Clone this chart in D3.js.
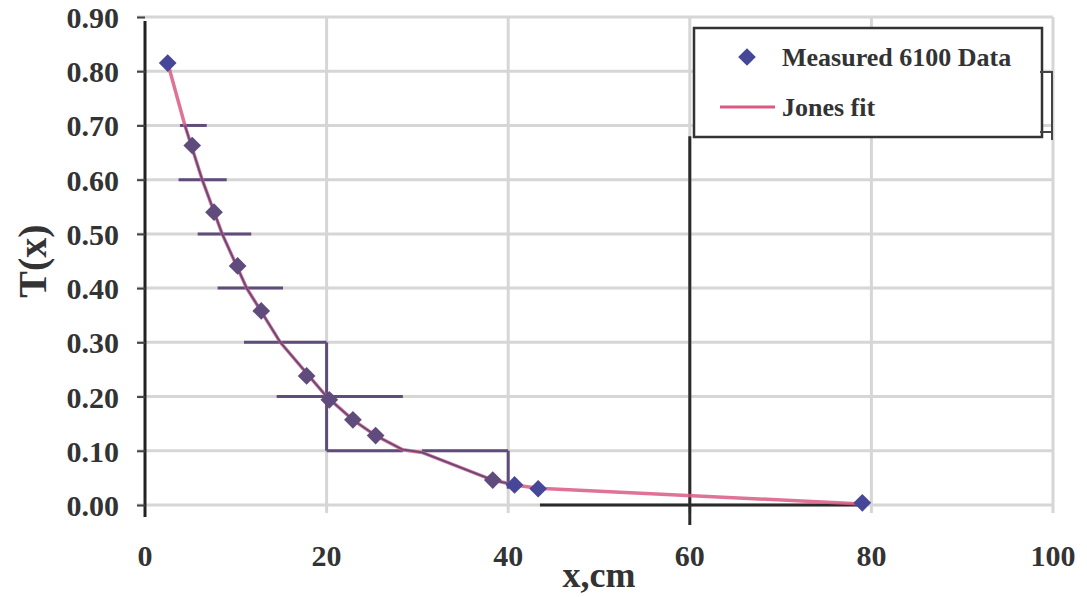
<!DOCTYPE html>
<html>
<head>
<meta charset="utf-8">
<script src="https://cdn.jsdelivr.net/npm/d3@7"></script>
<style>
  body { margin: 0; background: #fff; }
  text { font-family: "Liberation Serif", "Times New Roman", serif; font-weight: bold; fill: #333; }
</style>
</head>
<body>
<div id="chart"></div>
<script>
const width = 1087;
const height = 597;

// measured data
const measX = [2.5, 5.2, 7.6, 10.2, 12.8, 17.8, 20.3, 22.9, 25.4, 38.3, 40.7, 43.3, 79];
const measY = [0.815, 0.663, 0.54, 0.441, 0.358, 0.238, 0.194, 0.157, 0.128, 0.046, 0.037, 0.030, 0.004];

// Jones fit
const fitX = [2.5, 4.4, 6.3, 8.5, 11.2, 14.9, 20, 22.9, 25.4, 28.4, 30.5, 38.3, 40.7, 43.3, 79];
const fitY = [0.815, 0.70, 0.60, 0.50, 0.40, 0.30, 0.20, 0.157, 0.128, 0.102, 0.097, 0.046, 0.037, 0.031, 0.002];

// horizontal bars seen over the curve
const barY = [0.70, 0.60, 0.50, 0.40, 0.30, 0.20, 0.10, 0.10];
const barX0 = [3.85, 3.7, 5.8, 8.0, 10.9, 14.5, 20, 30.5];
const barX1 = [6.8, 9.0, 11.7, 15.2, 20, 28.4, 28.4, 40];
// vertical steps
const stepX = [20, 40];
const stepY0 = [0.30, 0.10];
const stepY1 = [0.10, 0.03];

const xTicks = [0, 20, 40, 60, 80, 100];
const yTicks = [0, 0.1, 0.2, 0.3, 0.4, 0.5, 0.6, 0.7, 0.8, 0.9];

const margin = {top: 17, right: 34, bottom: 92, left: 145};

const svg = d3.select("#chart").append("svg")
  .attr("width", width)
  .attr("height", height);

const x = d3.scaleLinear().domain([0, 100]).range([margin.left, width - margin.right]);
const y = d3.scaleLinear().domain([0, 0.9]).range([height - margin.bottom, margin.top]);

// grid
svg.append("g").selectAll("line").data(yTicks).join("line")
  .attr("x1", x(0) - 8).attr("x2", x(100))
  .attr("y1", d => y(d)).attr("y2", d => y(d))
  .attr("stroke", "#d6d6d6").attr("stroke-width", 3);
svg.append("g").selectAll("line").data(xTicks.slice(1)).join("line")
  .attr("x1", d => x(d)).attr("x2", d => x(d))
  .attr("y1", y(0.9)).attr("y2", y(0) + 8)
  .attr("stroke", "#d6d6d6").attr("stroke-width", 3);

// dark lines from the scan
svg.append("line")
  .attr("x1", x(60)).attr("x2", x(60))
  .attr("y1", y(0.68)).attr("y2", y(0) + 20)
  .attr("stroke", "#2a2a2a").attr("stroke-width", 3);
svg.append("line")
  .attr("x1", x(43.5)).attr("x2", x(79.5))
  .attr("y1", y(0)).attr("y2", y(0))
  .attr("stroke", "#2a2a2a").attr("stroke-width", 3);

// left axis
const yAxis = d3.axisLeft(y).tickValues(yTicks).tickSize(8).tickFormat(d3.format(".2f"));
const ya = svg.append("g").attr("transform", `translate(${x(0)},0)`).call(yAxis);
ya.select(".domain").attr("stroke", "#222").attr("stroke-width", 3)
  .attr("d", `M0,${y(0.9) + 4}V${y(0) + 12}`);
ya.selectAll(".tick line").attr("stroke", "#444").attr("stroke-width", 2);
ya.selectAll(".tick text").attr("x", -26).attr("dy", "0.35em").attr("font-size", 30)
  .style("font-family", "Liberation Serif, serif").style("font-weight", "bold").attr("fill", "#333");

// x tick labels
svg.append("g").selectAll("text").data(xTicks).join("text")
  .attr("x", d => x(d)).attr("y", y(0) + 61)
  .attr("text-anchor", "middle")
  .attr("font-size", 30)
  .text(d => d);

// axis titles
svg.append("text")
  .attr("transform", `translate(46,${(y(0) + y(0.9)) / 2}) rotate(-90)`)
  .attr("text-anchor", "middle")
  .attr("font-size", 40)
  .text("T(x)");
svg.append("text")
  .attr("x", x(50)).attr("y", height - 10)
  .attr("text-anchor", "middle")
  .attr("font-size", 36)
  .text("x,cm");

const purple = "#5f4c7c";
const blue = "#47479a";
const pink = "#d95b82";

// bars and steps
svg.append("g").selectAll("line").data(barY).join("line")
  .attr("x1", (d, i) => x(barX0[i])).attr("x2", (d, i) => x(barX1[i]))
  .attr("y1", d => y(d)).attr("y2", d => y(d))
  .attr("stroke", purple).attr("stroke-width", 3);
svg.append("g").selectAll("line").data(stepX).join("line")
  .attr("x1", d => x(d)).attr("x2", d => x(d))
  .attr("y1", (d, i) => y(stepY0[i])).attr("y2", (d, i) => y(stepY1[i]))
  .attr("stroke", purple).attr("stroke-width", 3);

// fit line
const fitPts = fitX.map((d, i) => [d, fitY[i]]);
const line = d3.line().x(d => x(d[0])).y(d => y(d[1]));
svg.append("path").datum(fitPts)
  .attr("d", line).attr("fill", "none")
  .attr("stroke", pink).attr("stroke-width", 3.5).attr("stroke-opacity", 0.85);
// overlaid purple pieces where the scan shows them
const inPurple = d => (d[0] >= 4.4 && d[0] <= 28.4) || (d[0] >= 30.5 && d[0] <= 40.7);
svg.append("path").datum(fitPts)
  .attr("d", line.defined(inPurple)).attr("fill", "none")
  .attr("stroke", purple).attr("stroke-width", 1.8);

// markers
const diamond = d3.symbol().type(d3.symbolDiamond2).size(200);
svg.append("g").selectAll("path").data(measX).join("path")
  .attr("transform", (d, i) => `translate(${x(d)},${y(measY[i])})`)
  .attr("d", diamond)
  .attr("fill", d => (d > 3 && d < 39) ? purple : blue);

// legend
const lg = svg.append("g");
lg.append("rect")
  .attr("x", 694).attr("y", 28).attr("width", 348).attr("height", 109)
  .attr("fill", "#fff").attr("stroke", "#333").attr("stroke-width", 2.5);
lg.append("path")
  .attr("d", "M1040,72H1052V132H1040M1052,72V140")
  .attr("fill", "none").attr("stroke", "#444").attr("stroke-width", 2);
lg.append("path")
  .attr("d", diamond)
  .attr("transform", "translate(747,57)")
  .attr("fill", blue);
lg.append("text").attr("x", 782).attr("y", 66).attr("font-size", 26).text("Measured 6100 Data");
lg.append("line")
  .attr("x1", 720).attr("x2", 775).attr("y1", 107).attr("y2", 107)
  .attr("stroke", pink).attr("stroke-width", 3);
lg.append("text").attr("x", 782).attr("y", 116).attr("font-size", 26).text("Jones fit");
</script>
</body>
</html>
